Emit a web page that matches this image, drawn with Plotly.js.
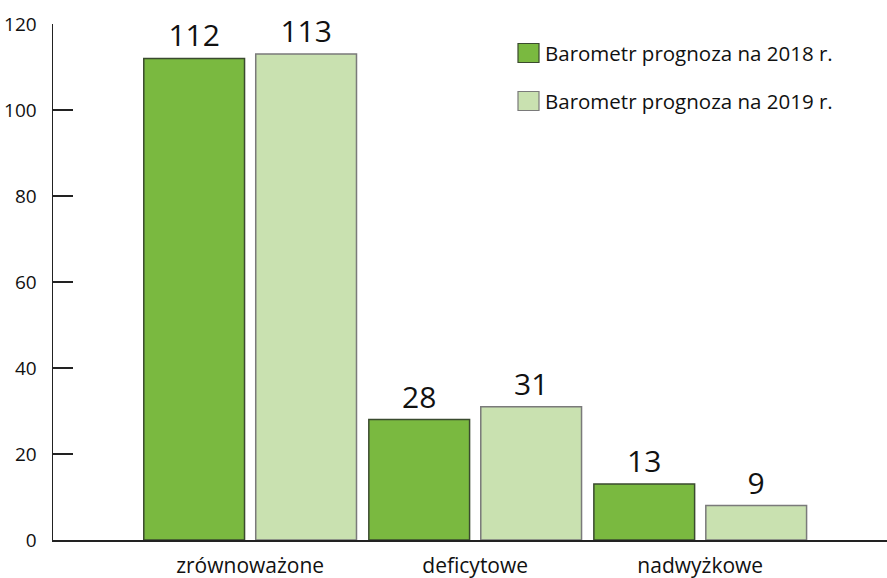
<!DOCTYPE html>
<html>
<head>
<meta charset="utf-8">
<script src="https://cdn.plot.ly/plotly-3.0.1.min.js"></script>
<style>html,body{margin:0;padding:0;background:#fff;}#chart{width:887px;height:578px;}</style>
</head>
<body>
<div id="chart"></div>
<script>
const categories = ["zrównoważone", "deficytowe", "nadwyżkowe"];
const series2018 = [112, 28, 13];
const series2019 = [113, 31, 8];
const labels2018 = ["112", "28", "13"];
const labels2019 = ["113", "31", "9"];
const seriesNames = ["Barometr prognoza na 2018 r.", "Barometr prognoza na 2019 r."];
const yTicks = [0, 20, 40, 60, 80, 100, 120];

const colors = ["#7ab940", "#c9e1b0"];
const outlines = ["#3a4a2e", "#7a7a7a"];
const FONT = "Open Sans, Noto Sans, sans-serif";

const traces = [
  {type: "bar", x: categories, y: series2018, name: seriesNames[0], text: labels2018,
   textposition: "outside", cliponaxis: false,
   textfont: {family: FONT, size: 30, color: "#111"},
   marker: {color: colors[0], line: {color: outlines[0], width: 1.5}}, showlegend: false, hoverinfo: "skip"},
  {type: "bar", x: categories, y: series2019, name: seriesNames[1], text: labels2019,
   textposition: "outside", cliponaxis: false,
   textfont: {family: FONT, size: 30, color: "#111"},
   marker: {color: colors[1], line: {color: outlines[1], width: 1.5}}, showlegend: false, hoverinfo: "skip"}
];

const W = 887, H = 578, L = 53, R = 0, T = 24, B = 38;
function px2paperX(px){ return (px - L) / (W - L - R); }
function px2paperY(py){ return (H - B - py) / (H - T - B); }

const shapes = [], annotations = [];
const legendY = [53, 101];
for (let i = 0; i < 2; i++) {
  shapes.push({type: "rect", xref: "paper", yref: "paper",
    x0: px2paperX(518), x1: px2paperX(539), y0: px2paperY(legendY[i] + 9.5), y1: px2paperY(legendY[i] - 9.5),
    fillcolor: colors[i], line: {color: outlines[i], width: 1.2}});
  annotations.push({xref: "paper", yref: "paper", x: px2paperX(543), y: px2paperY(legendY[i]),
    xanchor: "left", yanchor: "middle", showarrow: false, text: seriesNames[i],
    font: {family: FONT, size: 20.5, color: "#111"}});
}

const layout = {
  width: W, height: H,
  margin: {l: L, r: R, t: T, b: B, pad: 0},
  paper_bgcolor: "#fff", plot_bgcolor: "#fff",
  barmode: "group", bargap: 0.005, bargroupgap: 0.1,
  showlegend: false,
  font: {family: FONT, color: "#111"},
  xaxis: {type: "category", range: [-0.876, 2.83], showline: true, linecolor: "#222", linewidth: 1.5,
    ticks: "", showgrid: false, zeroline: false, tickfont: {family: FONT, size: 21, color: "#111"},
    ticklabelstandoff: 6},
  yaxis: {range: [0, 120], tickvals: yTicks, showline: true, linecolor: "#222", linewidth: 1.5,
    ticks: "inside", ticklen: 20, tickwidth: 1.3, tickcolor: "#222", showgrid: false, zeroline: false,
    tickfont: {family: FONT, size: 19, color: "#111"}, ticklabelstandoff: 11},
  shapes: shapes, annotations: annotations
};

Plotly.newPlot("chart", traces, layout, {displayModeBar: false, staticPlot: true});
</script>
</body>
</html>
